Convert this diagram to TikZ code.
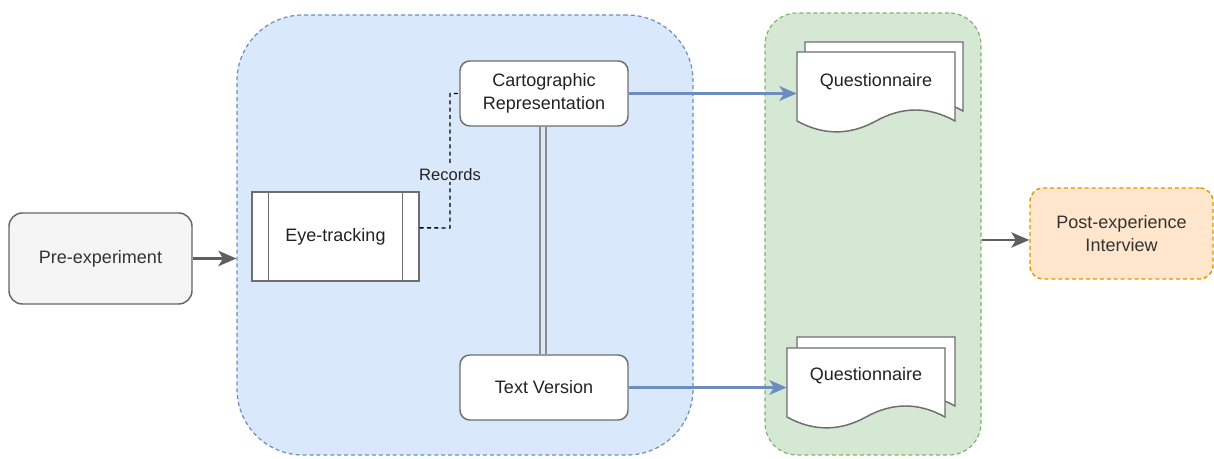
\documentclass[tikz,border=0pt]{standalone}
\usepackage{fontspec}
\setmainfont{Liberation Sans}
\usetikzlibrary{arrows.meta}
\definecolor{bluefill}{HTML}{DAE8FC}
\definecolor{blueline}{HTML}{6C8EBF}
\definecolor{greenfill}{HTML}{D5E8D4}
\definecolor{greenline}{HTML}{82B366}
\definecolor{prefill}{HTML}{F5F5F5}
\definecolor{preline}{HTML}{666666}
\definecolor{pretext}{HTML}{333333}
\definecolor{postfill}{HTML}{FFE6CC}
\definecolor{postline}{HTML}{D79B00}
\definecolor{boxline}{HTML}{6E6E6E}
\definecolor{dblline}{HTML}{8C8C8C}
\definecolor{arrgray}{HTML}{5F5F5F}
\definecolor{txt}{HTML}{222222}
\newcommand\myfs{\fontsize{13.5}{17}\selectfont}
\newcommand\mysmallfs{\fontsize{12.4}{15}\selectfont}
\newcommand\mydocpage[2]{%
  \draw[docpage] (#1,#2) -- ({#1+158},#2) -- ({#1+158},{#2+69})
    .. controls ({#1+131.67},{#2+54.33}) and ({#1+105.33},{#2+54.33}) .. ({#1+79},{#2+69})
    .. controls ({#1+52.67},{#2+83.5}) and ({#1+26.33},{#2+83.5}) .. (#1,{#2+69}) -- cycle;}
\begin{document}
\begin{tikzpicture}[x=0.75pt,y=-0.75pt,
  container/.style={draw, dash pattern=on 3pt off 2.2pt, line width=0.9pt, inner sep=0pt},
  whitebox/.style={draw=boxline, fill=white, rounded corners=7.3pt, line width=1.1pt,
    minimum width=126pt, minimum height=48.75pt, align=center, font=\myfs, text=txt, inner sep=0pt},
  sidebox/.style={line width=1.1pt, rounded corners=10pt, minimum width=137.25pt,
    minimum height=68.25pt, align=center, font=\myfs, inner sep=0pt},
  docpage/.style={draw=boxline, fill=white, line width=1.1pt},
  doctext/.style={font=\myfs, text=txt, minimum width=118.5pt, inner sep=0pt},
  grayarr/.style={draw=arrgray, line width=2pt, -{Stealth[length=13.5pt,width=11.5pt,inset=3.5pt]}},
  bluearr/.style={draw=blueline, line width=2pt, -{Stealth[length=13pt,width=11pt,inset=3.5pt]}},
  recline/.style={draw=black, line width=1.1pt, dash pattern=on 3pt off 2.5pt},
]
\useasboundingbox (0,0) rectangle (1214,459);

% containers
\node[container, draw=blueline, fill=bluefill, rounded corners=49.5pt,
  minimum width=342pt, minimum height=330pt] (blue) at (465,235) {};
\node[container, draw=greenline, fill=greenfill, rounded corners=24pt,
  minimum width=162pt, minimum height=331.5pt] (green) at (873,234) {};

% side boxes
\node[sidebox, draw=preline, fill=prefill, text=pretext] (pre) at (100.5,258.5) {Pre-experiment};
\node[sidebox, draw=postline, fill=postfill, text=pretext, dash pattern=on 3pt off 2.2pt]
  (post) at (1121.5,233.5) {Post-experience\\Interview};

% inner boxes
\node[draw=boxline, fill=white, line width=1.1pt, minimum width=125.25pt, minimum height=66.75pt,
  font=\myfs, text=txt, inner sep=0pt] (eye) at (335.5,236.5) {Eye-tracking};
\draw[draw=boxline, line width=1.1pt] ([xshift=12.75pt]eye.north west) -- ([xshift=12.75pt]eye.south west);
\draw[draw=boxline, line width=1.1pt] ([xshift=-12.75pt]eye.north east) -- ([xshift=-12.75pt]eye.south east);

\node[whitebox] (cart) at (544,93.5) {Cartographic\\Representation};
\node[whitebox] (tv) at (544,387.5) {Text Version};

% documents
\mydocpage{805}{42}
\mydocpage{797}{52}
\node[doctext] (q1) at (876,82) {Questionnaire};
\mydocpage{797}{337}
\mydocpage{787}{348}
\node[doctext] (q2) at (866,376) {Questionnaire};

% connectors
\draw[grayarr] (pre.east) -- (pre.east -| blue.west);
\coordinate (ge) at ([yshift=-4.5pt]green.east);
\draw[grayarr] (ge) -- (ge -| post.west);
\draw[bluearr] (cart.east) -- (cart.east -| q1.west);
\draw[bluearr] (tv.east) -- (tv.east -| q2.west);
\draw[draw=dblline, line width=1.3pt, double=bluefill, double distance=3.2pt] ([xshift=-0.75pt]cart.south) -- ([xshift=-0.75pt]tv.north);
\coordinate (rk) at (450,228);
\draw[recline] ([yshift=6.4pt]eye.east) -- (rk) |- node[pos=0.2, fill=bluefill, inner sep=1.5pt,
  font=\mysmallfs, text=txt] (rec) {Records} (cart.west);
\end{tikzpicture}
\end{document}
